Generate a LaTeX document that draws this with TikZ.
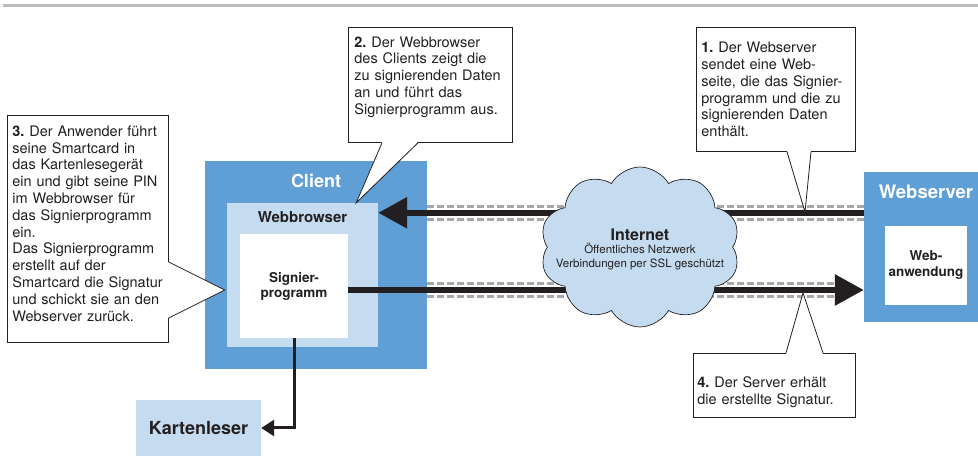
\documentclass[tikz,border=0pt]{standalone}
\usepackage{fontspec}
\setmainfont{TeX Gyre Heros}
\usepackage{tikz}
\usetikzlibrary{arrows.meta,positioning,calc,shapes.symbols}
\frenchspacing
\definecolor{ClientBlue}{HTML}{609FD6}
\definecolor{LightBlue}{HTML}{C5DCF0}
\definecolor{InkBlack}{HTML}{231F20}
\definecolor{DashGray}{HTML}{A7A7A9}
\definecolor{RuleGray}{HTML}{BBBBC0}
\tikzset{
  % Base box
  BX/.style={rectangle,inner sep=0pt,draw=none,align=center,text=InkBlack},
  % Colour variants
  cB/.style={BX,fill=ClientBlue},
  lB/.style={BX,fill=LightBlue},
  wB/.style={BX,fill=white},
  % Titles
  TW/.style={inner sep=0pt,text=white,font=\fontsize{18}{20}\selectfont\bfseries},
  TB/.style={inner sep=0pt,text=InkBlack,font=\fontsize{15}{17}\selectfont\bfseries},
  % Callout box and its pointer
  CO/.style={rectangle,draw=InkBlack,fill=white,line width=0.8pt,anchor=north west,
             inner ysep=0pt,align=left,text=InkBlack,font=\fontsize{14.5}{16.8}\selectfont},
  PT/.style={draw=InkBlack,line width=0.8pt,line join=miter},
  % Arrows
  arrF/.style={-{Triangle[length=29pt,width=30pt]},line width=6pt,draw=InkBlack},
  arrK/.style={-{Triangle[length=13pt,width=16pt]},line width=3pt,draw=InkBlack},
  DL/.style={draw=DashGray,line width=2.5pt,dash pattern=on 7pt off 3pt},
  RL/.style={draw=RuleGray,line width=2.7pt}
}
\begin{document}
\begin{tikzpicture}[x=1pt,y=-1pt]
  \useasboundingbox (0,0) rectangle (978,462);
  \draw[RL] (3,5.3) -- (978,5.3);
  % client side
  \node[cB,minimum width=222pt,minimum height=208pt] (client) at (316,265) {};
  \node[TW,below=13.5pt of client.north] (clienttitle) {Client};
  \node[lB,minimum width=151pt,minimum height=144pt] (browser) at (302.5,275) {};
  \node[TB,below=8.6pt of browser.north] (browsertitle) {Webbrowser};
  \node[wB,minimum width=108pt,minimum height=104pt,font=\fontsize{13.5}{15}\selectfont\bfseries]
    (signier) at (294,286) {Signier-\\programm};
  \node[lB,minimum width=125pt,minimum height=56pt,font=\fontsize{18}{20}\selectfont\bfseries]
    (reader) at (198.5,428) {Kartenleser};
  % server side
  \node[cB,minimum width=124pt,minimum height=150pt] (server) at (926,247) {};
  \node[TW,font=\fontsize{18.5}{20}\selectfont\bfseries,below=13.3pt of server.north] (servertitle) {Webserver};
  \node[wB,minimum width=82pt,minimum height=79pt,font=\fontsize{13.5}{16}\selectfont\bfseries]
    (webapp) at (926,265.5) {Web-\\anwendung};
  % connections
  \coordinate (upper) at ($(browser.north east)+(0,10)$);
  \coordinate (lower) at ($(signier.east)+(0,4)$);
  \draw[DL] ($(upper -| client.east)+(0,-6.5)$) -- ($(upper -| server.west)+(0,-6.5)$);
  \draw[DL] ($(upper -| client.east)+(0,6.5)$) -- ($(upper -| server.west)+(0,6.5)$);
  \draw[DL] ($(lower -| client.east)+(0,-6.5)$) -- ($(lower -| server.west)+(-29,-6.5)$);
  \draw[DL] ($(lower -| client.east)+(0,6.5)$) -- ($(lower -| server.west)+(-29,6.5)$);
  \draw[arrF] (upper -| server.west) -- (upper);
  \draw[arrF] (lower) -- (lower -| server.west);
  \draw[arrK] (signier.south) |- (reader.east);
  % internet
  \node[cloud,cloud puffs=10,cloud puff arc=120,minimum width=200pt,minimum height=160pt,
        draw=InkBlack,line width=0.7pt,fill=LightBlue,inner sep=0pt] (internet) at (640,247) {};
  \node[align=center,inner sep=0pt,text=InkBlack,font=\fontsize{11.5}{13.5}\selectfont]
    (nettext) at (640,249) {{\fontsize{16}{18}\selectfont\bfseries Internet}\\
      Öffentliches Netzwerk\\Verbindungen per SSL geschützt};
  % callouts
  \node[CO,text width=149pt,inner xsep=5pt,text height=25.3pt,text depth=98.7pt] (step1) at (696,27)
    {\textbf{1.} Der Webserver\\sendet eine Web-\\seite, die das Signier-\\programm und die zu\\signierenden Daten\\enthält.};
  \node[CO,text width=152pt,inner xsep=6pt,text height=19.7pt,text depth=95.3pt] (step2) at (348,27)
    {\textbf{2.} Der Webbrowser\\des Clients zeigt die\\zu signierenden Daten\\an und führt das\\Signierprogramm aus.};
  \node[CO,text width=151pt,inner xsep=5pt,text height=21pt,text depth=206pt] (step3) at (7,115)
    {\textbf{3.} Der Anwender führt\\seine Smartcard in\\das Kartenlesegerät\\ein und gibt seine PIN\\im Webbrowser für\\das Signierprogramm\\ein.\\Das Signierprogramm\\erstellt auf der\\Smartcard die Signatur\\und schickt sie an den\\Webserver zurück.};
  \node[CO,text width=154pt,inner xsep=4pt,text height=34pt,text depth=30pt] (step4) at (693,353)
    {\textbf{4.} Der Server erhält\\die erstellte Signatur.};
  % pointers
  \coordinate (tip1) at (805,212);
  \coordinate (tip2) at ($(browser.north east)+(-22,0)$);
  \coordinate (tip3) at ($(browser.west)+(-2,15)$);
  \coordinate (tip4) at (803,293);
  \coordinate (p1a) at ($(step1.south west)+(91,0)$);
  \coordinate (p1b) at ($(step1.south west)+(115,0)$);
  \coordinate (p2a) at ($(step2.south west)+(34,0)$);
  \coordinate (p2b) at ($(step2.south west)+(70,0)$);
  \coordinate (p3a) at ($(step3.north east)+(0,147)$);
  \coordinate (p3b) at ($(step3.north east)+(0,203)$);
  \coordinate (p4a) at ($(step4.north west)+(93,0)$);
  \coordinate (p4b) at ($(step4.north west)+(130,0)$);
  \fill[white] ($(p1a)+(0,-1)$) -- (tip1) -- ($(p1b)+(0,-1)$) -- cycle;
  \draw[PT] (p1a) -- (tip1) -- (p1b);
  \fill[white] ($(p2a)+(0,-1)$) -- (tip2) -- ($(p2b)+(0,-1)$) -- cycle;
  \draw[PT] (p2a) -- (tip2) -- (p2b);
  \fill[white] ($(p3a)+(-1,0)$) -- (tip3) -- ($(p3b)+(-1,0)$) -- cycle;
  \draw[PT] (p3a) -- (tip3) -- (p3b);
  \fill[white] ($(p4a)+(0,1)$) -- (tip4) -- ($(p4b)+(0,1)$) -- cycle;
  \draw[PT] (p4a) -- (tip4) -- (p4b);
\end{tikzpicture}
\end{document}
